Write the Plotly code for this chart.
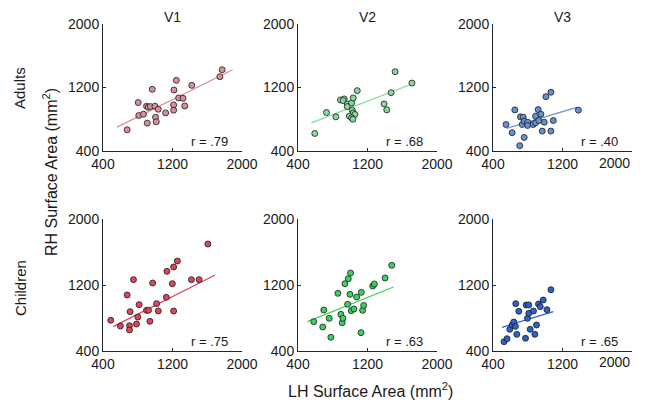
import plotly.graph_objects as go

# ---------------- data ----------------
regions = ["V1", "V2", "V3"]
groups = ["Adults", "Children"]
tick_vals = [400, 1200, 2000]
tick_text = ["400", "1200", "2000"]

adult_v1_lh = [678, 805, 812, 866, 909, 901, 920, 944, 967, 998, 1005, 1013, 1036, 1121, 1213, 1217, 1213, 1244, 1271, 1321, 1341, 1422, 1745, 1772]
adult_v1_rh = [667, 1010, 847, 864, 751, 964, 951, 960, 1177, 964, 826, 768, 926, 880, 981, 1169, 914, 1290, 1068, 1064, 968, 1227, 1336, 1424]

adult_v2_lh = [593, 728, 836, 889, 932, 920, 967, 967, 1017, 1036, 1082, 1024, 1036, 1055, 990, 1017, 1032, 1391, 1422, 1472, 1518, 1711]
adult_v2_rh = [621, 885, 830, 1043, 1056, 1035, 993, 960, 1006, 1068, 1160, 914, 880, 860, 839, 818, 801, 993, 918, 1135, 1399, 1256]

adult_v3_lh = [550, 620, 651, 708, 716, 747, 736, 759, 759, 798, 798, 863, 890, 890, 920, 928, 951, 967, 990, 1009, 1067, 1067, 1094, 1383]
adult_v3_rh = [734, 630, 918, 467, 830, 826, 734, 776, 571, 763, 722, 734, 755, 839, 922, 784, 864, 651, 763, 1085, 1140, 651, 784, 914]

child_v1_lh = [489, 600, 678, 705, 705, 712, 751, 786, 801, 816, 901, 924, 940, 971, 1017, 1036, 1129, 1136, 1198, 1213, 1213, 1256, 1418, 1506, 1607]
child_v1_rh = [772, 703, 1079, 707, 655, 877, 1265, 727, 812, 962, 893, 893, 760, 1224, 974, 885, 1050, 1366, 1216, 885, 1418, 1491, 1265, 1265, 1697]

child_v2_lh = [581, 685, 697, 759, 778, 859, 893, 909, 917, 940, 971, 979, 998, 1005, 1013, 1044, 1075, 1129, 1125, 1144, 1156, 1260, 1279, 1402, 1479]
child_v2_rh = [756, 691, 897, 796, 566, 1099, 844, 743, 796, 1216, 966, 1277, 1087, 1345, 889, 909, 1054, 1111, 622, 893, 953, 1188, 1212, 1285, 1438]

child_v3_lh = [527, 562, 593, 620, 639, 658, 662, 674, 697, 774, 782, 797, 812, 812, 828, 866, 882, 901, 924, 944, 978, 1021, 1067]
child_v3_rh = [513, 549, 663, 715, 751, 699, 974, 602, 881, 554, 958, 796, 958, 857, 663, 885, 602, 715, 970, 937, 1018, 901, 1143]

# fitted line end points (LH, RH)
fit_lh = {
    ("Adults", "V1"): [562, 1892], ("Adults", "V2"): [554, 1711], ("Adults", "V3"): [554, 1375],
    ("Children", "V1"): [516, 1691], ("Children", "V2"): [508, 1499], ("Children", "V3"): [504, 1094],
}
fit_rh = {
    ("Adults", "V1"): [701, 1424], ("Adults", "V2"): [755, 1244], ("Adults", "V3"): [684, 952],
    ("Children", "V1"): [695, 1321], ("Children", "V2"): [756, 1176], ("Children", "V3"): [687, 877],
}
r_values = {
    ("Adults", "V1"): "r = .79", ("Adults", "V2"): "r = .68", ("Adults", "V3"): "r = .40",
    ("Children", "V1"): "r = .75", ("Children", "V2"): "r = .63", ("Children", "V3"): "r = .65",
}
points = {
    ("Adults", "V1"): (adult_v1_lh, adult_v1_rh),
    ("Adults", "V2"): (adult_v2_lh, adult_v2_rh),
    ("Adults", "V3"): (adult_v3_lh, adult_v3_rh),
    ("Children", "V1"): (child_v1_lh, child_v1_rh),
    ("Children", "V2"): (child_v2_lh, child_v2_rh),
    ("Children", "V3"): (child_v3_lh, child_v3_rh),
}

# ---------------- styling ----------------
colors = {
    ("Adults", "V1"): "#d98f99", ("Adults", "V2"): "#86d89c", ("Adults", "V3"): "#6790d2",
    ("Children", "V1"): "#d9475a", ("Children", "V2"): "#3fcf5e", ("Children", "V3"): "#2c62c9",
}
W, H = 649, 404
OFF = 8  # page body margin offset of the plot div
col_px = [(103, 242), (298, 437), (493, 632)]
row_px = [(24, 151), (219, 351)]
xtick_label_y = [163, 362]
FONT = "Liberation Sans, Arial, Helvetica, sans-serif"
AX = "#262626"
TXT = "#1a1a1a"


def px_x(p):
    return (p - OFF) / W


def px_y(p):
    return 1 - (p - OFF) / H


fig = go.Figure()
layout = dict(
    template="none",
    width=W, height=H, autosize=False,
    margin=dict(l=0, r=0, t=0, b=0, pad=0, autoexpand=False),
    paper_bgcolor="white", plot_bgcolor="white", showlegend=False,
    font=dict(family=FONT, size=14, color=TXT),
)
annotations = []
k = 0
for ri, g in enumerate(groups):
    for ci, reg in enumerate(regions):
        k += 1
        xa = "xaxis" if k == 1 else f"xaxis{k}"
        ya = "yaxis" if k == 1 else f"yaxis{k}"
        xr = "x" if k == 1 else f"x{k}"
        yr = "y" if k == 1 else f"y{k}"
        x0, x1 = col_px[ci]
        y0, y1 = row_px[ri]
        common = dict(
            range=[400, 2000], tickmode="array", tickvals=tick_vals,
            showline=True, linecolor=AX, linewidth=1, mirror=False,
            ticks="inside", ticklen=3, tickcolor=AX, tickwidth=1,
            showgrid=False, zeroline=False, automargin=False, fixedrange=True,
            tickfont=dict(family=FONT, size=14, color=TXT),
        )
        last_col = ci == len(regions) - 1
        xt = tick_text[:-1] + [""] if last_col else tick_text
        layout[xa] = dict(common, ticktext=xt, domain=[px_x(x0), px_x(x1)], anchor=yr)
        layout[ya] = dict(common, ticktext=tick_text, domain=[px_y(y1), px_y(y0)], anchor=xr)
        if last_col:
            # last x tick label kept inside the figure edge, as in the reference
            annotations.append(dict(
                x=px_x(632), y=px_y(xtick_label_y[ri]), xref="paper", yref="paper",
                text=tick_text[-1], showarrow=False, xanchor="right", yanchor="middle",
                font=dict(family=FONT, size=14, color=TXT),
            ))
        key = (g, reg)
        c = colors[key]
        fig.add_trace(go.Scatter(
            x=fit_lh[key], y=fit_rh[key], mode="lines",
            line=dict(color=c, width=1.2), xaxis=xr, yaxis=yr, hoverinfo="skip",
        ))
        lh, rh = points[key]
        fig.add_trace(go.Scatter(
            x=lh, y=rh, mode="markers",
            marker=dict(size=6, color=c, line=dict(color=TXT, width=0.8)),
            xaxis=xr, yaxis=yr, cliponaxis=False,
        ))
        annotations.append(dict(
            x=1630, y=520, xref=xr, yref=yr, text=r_values[key], showarrow=False,
            font=dict(family=FONT, size=13, color=TXT), xanchor="center", yanchor="middle",
        ))
        if ri == 0:
            annotations.append(dict(
                x=px_x((x0 + x1) / 2), y=px_y(17), xref="paper", yref="paper",
                text=reg, showarrow=False, font=dict(family=FONT, size=14, color=TXT),
                xanchor="center", yanchor="middle",
            ))

# row labels and axis titles
annotations.append(dict(x=px_x(20), y=px_y(88), xref="paper", yref="paper", text="Adults",
                        textangle=-90, showarrow=False, xanchor="center", yanchor="middle",
                        font=dict(family=FONT, size=15, color=TXT)))
annotations.append(dict(x=px_x(20), y=px_y(288), xref="paper", yref="paper", text="Children",
                        textangle=-90, showarrow=False, xanchor="center", yanchor="middle",
                        font=dict(family=FONT, size=15, color=TXT)))
annotations.append(dict(x=px_x(50), y=px_y(172), xref="paper", yref="paper",
                        text="RH Surface Area (mm<sup>2</sup>)", xanchor="center", yanchor="middle",
                        textangle=-90, showarrow=False, font=dict(family=FONT, size=16, color=TXT)))
annotations.append(dict(x=px_x(370), y=px_y(390), xref="paper", yref="paper",
                        text="LH Surface Area (mm<sup>2</sup>)", xanchor="center", yanchor="middle",
                        showarrow=False, font=dict(family=FONT, size=16, color=TXT)))
layout["annotations"] = annotations
fig.update_layout(**layout)
fig.write_html("out.html")
